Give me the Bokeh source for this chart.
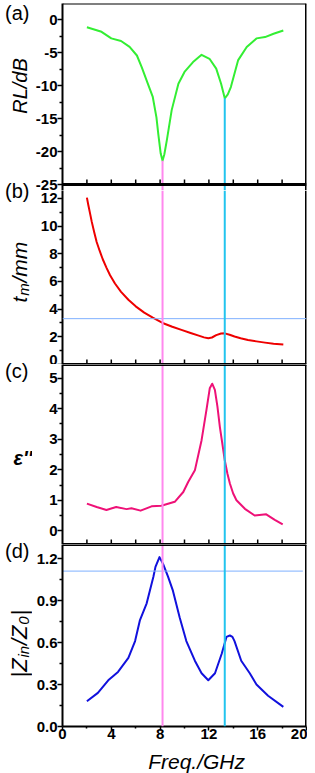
import math
from bokeh.plotting import figure
from bokeh.layouts import column, row
from bokeh.models import Range1d, FixedTicker, Label, Span
from bokeh.embed import file_html
from bokeh.resources import INLINE

# ---------------- data ----------------
freq_rl = [2.0, 3.2, 4.0, 4.8, 5.5, 6.1, 6.5, 7.0, 7.4, 7.7, 7.85, 8.05, 8.2, 8.35, 8.55, 8.95,
           9.5, 10.0, 10.7, 11.4, 12.05, 12.6, 13.0, 13.3, 13.55, 13.8, 14.4, 15.1, 15.9, 16.6, 17.3, 18.1]
rl = [-1.1, -1.8, -2.8, -3.2, -4.1, -5.4, -7.2, -9.7, -11.7, -14.8, -17.3, -20.3, -21.4, -20.4, -18.3, -13.7,
      -9.7, -7.9, -6.4, -5.3, -5.9, -7.4, -9.7, -11.9, -11.3, -10.2, -6.1, -4.1, -2.8, -2.6, -2.1, -1.6]

freq_tm = [2.0, 2.12, 2.25, 2.4, 2.6, 2.8, 3.05, 3.3, 3.6, 3.9, 4.3, 4.8, 5.4, 6.0, 6.7, 7.4, 8.2, 9.0,
           9.75, 10.5, 11.1, 11.6, 11.95, 12.25, 12.6, 13.0, 13.3, 13.7, 14.1, 14.6, 15.2, 15.9, 16.6, 17.3, 18.1]
tm = [12.05, 11.5, 10.95, 10.3, 9.55, 8.85, 8.2, 7.6, 7.0, 6.45, 5.85, 5.25, 4.68, 4.2, 3.75, 3.38, 3.0, 2.73,
      2.5, 2.28, 2.1, 1.96, 1.9, 1.95, 2.12, 2.24, 2.25, 2.15, 2.02, 1.9, 1.77, 1.67, 1.58, 1.5, 1.44]

freq_eps = [2.0, 2.8, 3.6, 4.4, 5.25, 5.65, 6.4, 7.3, 8.1, 9.2, 9.9, 10.3, 10.85, 11.4, 11.8, 12.07, 12.27,
            12.49, 12.7, 12.9, 13.1, 13.3, 13.52, 13.72, 13.99, 14.26, 14.95, 15.75, 16.7, 17.4, 18.05]
eps2 = [0.89, 0.78, 0.68, 0.78, 0.71, 0.74, 0.66, 0.80, 0.82, 0.95, 1.27, 1.6, 1.98, 2.97, 3.96, 4.67, 4.82,
        4.62, 4.07, 3.4, 2.86, 2.31, 1.87, 1.55, 1.22, 1.0, 0.72, 0.5, 0.54, 0.36, 0.21]

freq_z = [2.0, 2.9, 3.75, 4.55, 5.4, 5.95, 6.35, 6.9, 7.45, 7.62, 7.95, 8.25, 8.65, 9.05, 9.6, 10.15, 10.85,
          11.4, 11.95, 12.5, 13.05, 13.44, 13.72, 13.93, 14.1, 14.65, 15.35, 15.9, 16.85, 18.1]
zratio = [0.18, 0.24, 0.33, 0.39, 0.49, 0.61, 0.76, 0.88, 1.07, 1.14, 1.21, 1.16, 1.07, 0.97, 0.78, 0.61, 0.47,
          0.38, 0.33, 0.38, 0.52, 0.64, 0.65, 0.64, 0.61, 0.47, 0.38, 0.30, 0.22, 0.14]

mark_f = [8.2, 13.3]          # vertical marker lines (GHz)
rl_at_mark = [-21.4, -11.9]   # RL minima at the markers
tm_level = 3.31               # horizontal line in (b)
z_level = 1.11                # horizontal line in (d)
z_level_end = 19.7

x_ticks_inner = [2, 4, 6, 8, 10, 12, 14, 16, 18]
x_ticks = [0, 4, 8, 12, 16, 20]
x_minor = [2, 6, 10, 14, 18]
x_labels = ["0", "4", "8", "12", "16", "20"]

rl_ticks = [-25, -20, -15, -10, -5, 0]
rl_labels = ["-25", "-20", "-15", "-10", "-5", "0"]
rl_minor = [-22.5, -17.5, -12.5, -7.5, -2.5]
tm_ticks = [0, 2, 4, 6, 8, 10, 12]
tm_minor = [1, 3, 5, 7, 9, 11]
eps_ticks = [0, 1, 2, 3, 4, 5]
eps_minor = [0.5, 1.5, 2.5, 3.5, 4.5]
z_ticks = [0.0, 0.3, 0.6, 0.9, 1.2]
z_minor = [0.15, 0.45, 0.75, 1.05]
z_labels = ["0.0", "0.3", "0.6", "0.9", "1.2"]

# ---------------- style / geometry ----------------
FONT = "Liberation Sans"
LABW = 32            # width of the left text strip
LEFT = 29            # room for tick labels
FW = 244
XR = (0, 20)
PINK = "#ff88ee"
CYAN = "#22c4ee"
HBLUE = "#7fb0ff"
TOP = 3
EXT = 6              # px of panel (a) frame below its bottom line (room for "-25")
BOT = 24
XT_H = 23

H_A, H_B, H_C, H_D = 181, 180, 180, 182
yr_a_nom = (-25, 2.5)
yr_b_nom = (0, 13)
yr_c = (-0.45, 5.45)
yr_d = (0, 1.3)
ppu_a = H_A / (yr_a_nom[1] - yr_a_nom[0])
ppu_b = H_B / (yr_b_nom[1] - yr_b_nom[0])
yr_a = (yr_a_nom[0] - EXT / ppu_a, yr_a_nom[1])
yr_b = (yr_b_nom[0], yr_b_nom[1] - EXT / ppu_b)


def make_fig(yr, fh, yticks, yminor, top=0, bottom=0, last=False):
    p = figure(frame_width=FW, frame_height=fh, x_range=Range1d(*XR), y_range=Range1d(*yr),
               min_border_left=LEFT, min_border_right=2, min_border_top=top, min_border_bottom=bottom,
               toolbar_location=None, output_backend="svg", title=None)
    p.xgrid.visible = False
    p.ygrid.visible = False
    p.outline_line_color = None
    p.background_fill_color = "white"
    p.border_fill_color = "white"
    ay = p.yaxis[0]
    ay.ticker = FixedTicker(ticks=yticks, minor_ticks=yminor)
    ay.major_tick_out = 5
    ay.major_tick_in = 0
    ay.minor_tick_out = 3
    ay.minor_tick_in = 0
    ay.major_tick_line_width = 1.5
    ay.minor_tick_line_width = 1.5
    ay.axis_line_width = 2
    ay.major_label_text_font = FONT
    ay.major_label_text_font_style = "bold"
    ay.major_label_text_font_size = "15px"
    ay.major_label_text_color = "black"
    ay.major_label_standoff = 0
    ax = p.xaxis[0]
    if not last:
        ax.visible = False
    else:
        ax.ticker = FixedTicker(ticks=x_ticks, minor_ticks=x_minor)
        ax.major_label_overrides = {t: s for t, s in zip(x_ticks, x_labels)}
        ax.major_tick_out = 4
        ax.major_tick_in = 0
        ax.minor_tick_out = 2
        ax.minor_tick_in = 0
        ax.axis_line_width = 2
        ax.major_tick_line_width = 1.5
        ax.minor_tick_line_width = 1.5
        ax.major_label_text_font = FONT
        ax.major_label_text_font_style = "bold"
        ax.major_label_text_font_size = "15px"
        ax.major_label_text_color = "black"
        ax.major_label_standoff = -2
    # right border
    p.add_layout(Span(location=XR[1], dimension="height", line_color="black", line_width=3))
    return p


def hline(p, y, w):
    p.add_layout(Span(location=y, dimension="width", line_color="black", line_width=w))


def inner_ticks(p, y, ppu):
    p.segment(x0=x_ticks_inner, y0=[y] * len(x_ticks_inner), x1=x_ticks_inner,
              y1=[y + 5 / ppu] * len(x_ticks_inner), line_color="black", line_width=1.5)


def vmarks(p):
    for f, c in zip(mark_f, [PINK, CYAN]):
        p.add_layout(Span(location=f, dimension="height", line_color=c, line_width=2))


# ---------------- panel (a) ----------------
pa = make_fig(yr_a, H_A + EXT, rl_ticks, rl_minor, top=TOP)
pa.yaxis[0].major_label_overrides = {t: s for t, s in zip(rl_ticks, rl_labels)}
pa.line(freq_rl, rl, line_color="#33ee33", line_width=2, line_join="round")
pa.segment(x0=mark_f, y0=[yr_a[0]] * 2, x1=mark_f, y1=rl_at_mark, line_color=[PINK, CYAN], line_width=2)
hline(pa, yr_a_nom[1], 2)
hline(pa, yr_a_nom[0], 3)
inner_ticks(pa, yr_a_nom[0], ppu_a)

# ---------------- panel (b) ----------------
pb = make_fig(yr_b, H_B - EXT, tm_ticks, tm_minor)
pb.line(freq_tm, tm, line_color="#ee0000", line_width=2, line_join="round")
pb.add_layout(Span(location=tm_level, dimension="width", line_color=HBLUE, line_width=1))
vmarks(pb)
hline(pb, yr_b[0], 3)
inner_ticks(pb, yr_b[0], ppu_b)

# ---------------- panel (c) ----------------
pc = make_fig(yr_c, H_C, eps_ticks, eps_minor)
pc.line(freq_eps, eps2, line_color="#ee1177", line_width=2, line_join="round")
vmarks(pc)
hline(pc, yr_c[1], 3)
hline(pc, yr_c[0], 3)
inner_ticks(pc, yr_c[0], H_C / (yr_c[1] - yr_c[0]))

# ---------------- panel (d) ----------------
pd_ = make_fig(yr_d, H_D, z_ticks, z_minor, bottom=BOT, last=True)
pd_.yaxis[0].major_label_overrides = {t: s for t, s in zip(z_ticks, z_labels)}
pd_.line(freq_z, zratio, line_color="#1111dd", line_width=2, line_join="round")
pd_.line([XR[0], z_level_end], [z_level, z_level], line_color=HBLUE, line_width=1)
vmarks(pd_)
hline(pd_, yr_d[1], 3)

main = column(pa, pb, pc, pd_, spacing=0)

# ---------------- left text strip (panel tags + y titles), page-pixel coords ----------------
LAB_H = TOP + (H_A + EXT) + (H_B - EXT) + H_C + H_D + BOT
lab = figure(frame_width=LABW, frame_height=LAB_H, x_range=Range1d(0, LABW), y_range=Range1d(LAB_H, 0),
             min_border_left=0, min_border_right=0, min_border_top=0, min_border_bottom=0,
             toolbar_location=None, output_backend="svg", title=None)
lab.axis.visible = False
lab.grid.visible = False
lab.outline_line_color = None


def tag(text, y):
    lab.add_layout(Label(x=4.5, y=y, text=text, text_font=FONT, text_font_size="20px",
                         text_baseline="top", text_align="left", text_color="black"))


CW = {"t": 0.278, "m": 0.833, "/": 0.278, "|": 0.26, "Z": 0.611, "i": 0.222, "n": 0.556, "0": 0.556}


def rot_label(x, y, pieces):
    # pieces laid out bottom-to-top; each piece centred on its own slot
    off = 0.0
    for text, size, sub in pieces:
        w = sum(CW[c] for c in text) * size
        lab.add_layout(Label(x=x + (4 if sub else 0), y=y, text=text, angle=math.pi / 2, text_align="center",
                             text_baseline="middle", text_font=FONT, text_font_style="italic",
                             text_font_size=f"{size}px", y_offset=off + w / 2, text_color="black"))
        off += w + 0.8


tag("(a)", 1)
tag("(b)", 179)
tag("(c)", 359)
tag("(d)", 539)
lab.add_layout(Label(x=19.5, y=85.5, text="RL/dB", angle=math.pi / 2, text_align="center",
                     text_baseline="middle", text_font=FONT, text_font_style="italic",
                     text_font_size="20px", text_color="black"))
rot_label(19, 302, [("t", 21, False), ("m", 15, True), ("/mm", 21, False)])
lab.add_layout(Label(x=22.5, y=457, text="\u03b5''", text_align="center", text_baseline="middle",
                     text_font=FONT, text_font_style="bold italic", text_font_size="20px", text_color="black"))
rot_label(19, 677, [("|Z", 22, False), ("in", 15, True), ("/Z", 22, False), ("0", 15, True), ("|", 22, False)])

# ---------------- x title strip ----------------
xt = figure(frame_width=FW, frame_height=XT_H, x_range=Range1d(*XR), y_range=Range1d(0, XT_H),
            min_border_left=LABW + LEFT, min_border_right=2, min_border_top=0, min_border_bottom=0,
            toolbar_location=None, output_backend="svg", title=None)
xt.axis.visible = False
xt.grid.visible = False
xt.outline_line_color = None
xt.add_layout(Label(x=11.07, y=12, text="Freq./GHz", text_align="center", text_baseline="middle",
                    text_font=FONT, text_font_style="italic", text_font_size="21px", text_color="black"))

layout = column(row(lab, main, spacing=0), xt, spacing=0)
open("out.html", "w").write(file_html(layout, INLINE))
